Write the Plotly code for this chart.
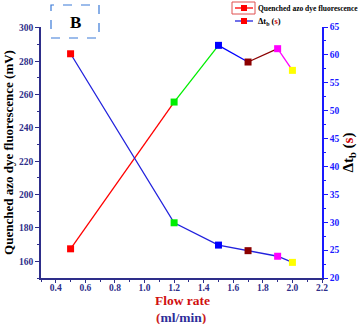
import plotly.graph_objects as go

flow = [0.5, 1.2, 1.5, 1.7, 1.9, 2.0]
fluor = [167.5, 255.5, 289.5, 279.5, 287.5, 274.5]
dtb = [60.2, 29.9, 25.9, 24.9, 23.9, 22.8]
pt_colors = ["#ff0000", "#00ee00", "#0000ff", "#8b0000", "#ff00ff", "#ffff00"]
x_ticks = [0.4, 0.6, 0.8, 1.0, 1.2, 1.4, 1.6, 1.8, 2.0, 2.2]
legend_names = ["Quenched azo dye fluorescence",
                "Δt<sub>b</sub> (<span style='color:#cc0000'>s</span>)"]

SERIF = "Liberation Serif"
NAVY = "#2e2e8a"
BLUE = "#1a1aff"
W, H = 363, 324
L, R, T, B = 41, 41, 27, 46


def px(xp):
    return (xp - L) / (W - L - R)


def py(yp):
    return (H - B - yp) / (H - T - B)


fig = go.Figure()

# coloured segments of the fluorescence series
for i in range(len(flow) - 1):
    fig.add_trace(go.Scatter(x=flow[i:i + 2], y=fluor[i:i + 2], mode="lines",
                             line=dict(color=pt_colors[i], width=1.3),
                             showlegend=False, hoverinfo="skip"))
fig.add_trace(go.Scatter(x=flow, y=fluor, mode="markers",
                         marker=dict(color=pt_colors, size=7, symbol="square"),
                         showlegend=False))

# delta t_b series (right axis)
fig.add_trace(go.Scatter(x=flow, y=dtb, mode="lines+markers", yaxis="y2",
                         line=dict(color="#2222dd", width=1.3),
                         marker=dict(color=pt_colors, size=7, symbol="square"),
                         showlegend=False))

tickfont = dict(family=SERIF, size=9.5, color=NAVY, weight="bold")

shapes = [
    dict(type="rect", xref="paper", yref="paper", x0=px(51), x1=px(99), y0=py(38), y1=py(5),
         line=dict(color="#3a7ad8", width=1.2, dash="dash")),
    # legend symbol frame
    dict(type="rect", xref="paper", yref="paper", x0=px(232), x1=px(255), y0=py(14), y1=py(2),
         line=dict(color="#e05050", width=1)),
]
annotations = [
    dict(text="<b>B</b>", xref="paper", yref="paper", x=px(75), y=py(22), showarrow=False,
         xanchor="center", yanchor="middle",
         font=dict(family=SERIF, size=17, color="black")),
    dict(text="Flow rate", xref="paper", yref="paper", x=px(182), y=py(300), showarrow=False,
         xanchor="center", yanchor="middle",
         font=dict(family=SERIF, size=13.5, color="#d01010", weight="bold")),
    dict(text="<span style='color:#cc2020'>(</span>ml/min<span style='color:#cc2020'>)</span>",
         xref="paper", yref="paper", x=px(181), y=py(317), showarrow=False,
         xanchor="center", yanchor="middle",
         font=dict(family=SERIF, size=13.5, color="#2e2e9a", weight="bold")),
]
leg_line_colors = ["#ff0000", "#2222dd"]
for k, (name, lc) in enumerate(zip(legend_names, leg_line_colors)):
    yy = 8 + 13 * k
    shapes.append(dict(type="line", xref="paper", yref="paper", x0=px(235), x1=px(253),
                       y0=py(yy), y1=py(yy), line=dict(color=lc, width=1.3)))
    shapes.append(dict(type="rect", xref="paper", yref="paper", x0=px(241), x1=px(247),
                       y0=py(yy + 3), y1=py(yy - 3), line=dict(width=0), fillcolor="#ff0000"))
    annotations.append(dict(text=name, xref="paper", yref="paper", x=px(256), y=py(yy),
                            xanchor="left", yanchor="middle", showarrow=False,
                            font=dict(family=SERIF, size=7.5 if k == 0 else 8.5,
                                      color="black", weight="bold")))

fig.update_layout(
    width=W, height=H,
    margin=dict(l=L, r=R, t=T, b=B, autoexpand=False),
    paper_bgcolor="white", plot_bgcolor="white",
    showlegend=False,
    xaxis=dict(range=[0.3, 2.2], tickvals=x_ticks, ticktext=[f"{v:.1f}" for v in x_ticks],
               showgrid=False, zeroline=False, showline=True, linecolor=NAVY, linewidth=1.5,
               ticks="outside", ticklen=3, tickcolor=NAVY, tickfont=tickfont,
               ticklabelstandoff=-3,
               minor=dict(dtick=0.1, tick0=0.3, ticks="outside", ticklen=2, tickcolor=NAVY)),
    yaxis=dict(range=[150, 300.5], tickvals=list(range(160, 301, 20)),
               showgrid=False, zeroline=False, showline=True, linecolor=NAVY, linewidth=1.5,
               ticks="outside", ticklen=4, tickcolor=NAVY, tickfont=tickfont,
               minor=dict(dtick=10, tick0=150, ticks="outside", ticklen=2, tickcolor=NAVY),
               title=dict(text="Quenched azo dye fluorescence (mV)",
                          font=dict(family=SERIF, size=13, color="black", weight="bold"), standoff=3)),
    yaxis2=dict(range=[20, 65], overlaying="y", side="right", tickvals=list(range(20, 66, 5)),
                showgrid=False, zeroline=False, showline=True, linecolor=BLUE, linewidth=1.5,
                ticks="outside", ticklen=4, tickcolor=BLUE,
                tickfont=dict(family=SERIF, size=9.5, color=BLUE, weight="bold"),
                minor=dict(dtick=2.5, tick0=20, ticks="outside", ticklen=2, tickcolor=BLUE),
                title=dict(text="Δt<sub>b</sub> (<span style='color:#cc0000'>s</span>)",
                           font=dict(family=SERIF, size=15, color="black", weight="bold"), standoff=4)),
    shapes=shapes,
    annotations=annotations,
)

fig.write_html("out.html")
